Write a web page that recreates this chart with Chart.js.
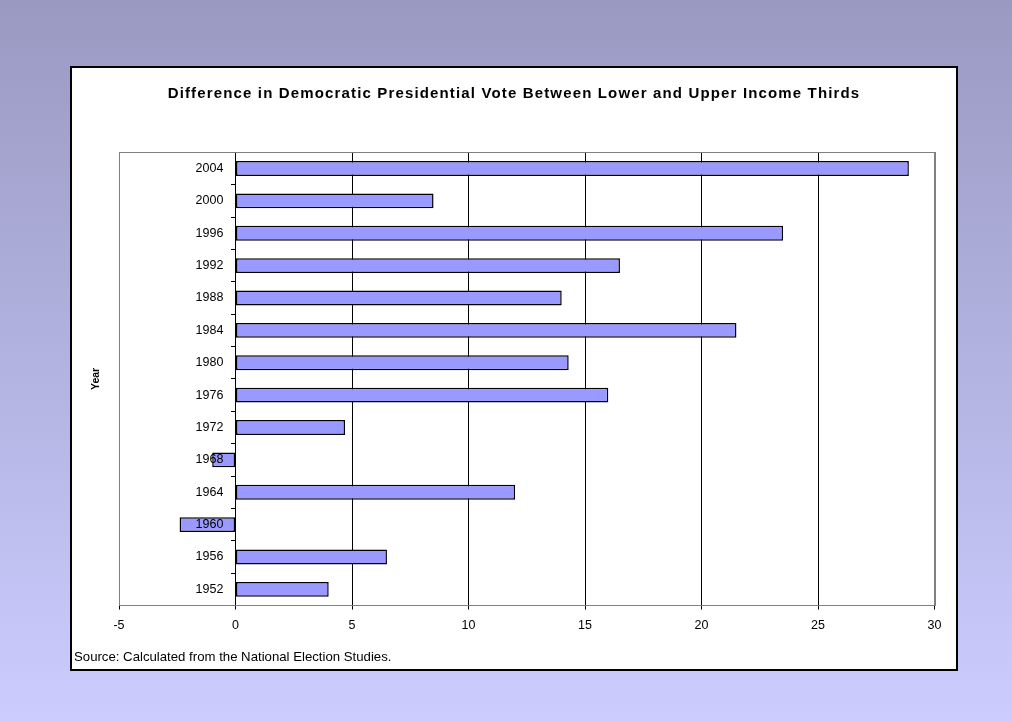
<!DOCTYPE html>
<html>
<head>
<meta charset="utf-8">
<script src="https://cdn.jsdelivr.net/npm/chart.js@4.4.1/dist/chart.umd.min.js"></script>
<style>
    html, body {
        margin: 0;
        padding: 0;
    }
    body {
        width: 1012px;
        height: 722px;
        background: linear-gradient(#9999c2, #ccccff);
        position: relative;
        overflow: hidden;
    }
    .chart-box {
        position: absolute;
        left: 70px;
        top: 66px;
        width: 888px;
        height: 605px;
        box-sizing: border-box;
        border: 2px solid #000;
        background: #fff;
    }
    .chart-box canvas {
        display: block;
    }
</style>
</head>
<body>
<div class="chart-box">
    <canvas id="income-chart" width="884" height="601"></canvas>
</div>
<script>
// Election years and the lower-minus-upper income third gap (percentage points)
const years = ['1952', '1956', '1960', '1964', '1968', '1972', '1976',
               '1980', '1984', '1988', '1992', '1996', '2000', '2004'];
const voteGap = [4.0, 6.5, -2.4, 12.0, -1.0, 4.7, 16.0,
                 14.3, 21.5, 14.0, 16.5, 23.5, 8.5, 28.9];
const xTicks = [-5, 0, 5, 10, 15, 20, 25, 30];

const fontFamily = '"Liberation Sans", Arial, sans-serif';

// Gray frame round the plot area (the axes paint over the bottom edge)
const plotFrame = {
    id: 'plotFrame',
    beforeDatasetsDraw(chart) {
        const { ctx, chartArea } = chart;
        ctx.save();
        ctx.strokeStyle = '#808080';
        ctx.lineWidth = 1;
        ctx.strokeRect(Math.round(chartArea.left) + 0.5, Math.round(chartArea.top) + 0.5,
            Math.round(chartArea.right - chartArea.left), Math.round(chartArea.bottom - chartArea.top));
        ctx.restore();
    }
};

// Spread out the letters of the main title
const titleSpacing = {
    id: 'titleSpacing',
    beforeDraw(chart, args, opts) {
        const block = chart.titleBlock;
        if (!block || block._spaced) return;
        const draw = block.draw.bind(block);
        block.draw = function(area) {
            chart.ctx.save();
            chart.ctx.letterSpacing = opts.spacing;
            draw(area);
            chart.ctx.restore();
        };
        block._spaced = true;
    }
};

const ctx = document.getElementById('income-chart').getContext('2d');
new Chart(ctx, {
    type: 'bar',
    data: {
        labels: years,
        datasets: [{
            data: voteGap,
            backgroundColor: '#9999ff',
            borderColor: '#000',
            borderWidth: 1.5,
            borderSkipped: false,
            categoryPercentage: 1,
            barPercentage: 0.46
        }]
    },
    options: {
        indexAxis: 'y',
        responsive: false,
        devicePixelRatio: 1,
        animation: false,
        events: [],
        layout: { padding: { left: 2, right: 2, top: 0, bottom: 0 } },
        plugins: {
            legend: { display: false },
            tooltip: { enabled: false },
            titleSpacing: { spacing: '1.15px' },
            title: {
                display: true,
                text: 'Difference in Democratic Presidential Vote Between Lower and Upper Income Thirds',
                color: '#000',
                font: { family: fontFamily, size: 15, weight: 'bold' },
                padding: { top: 17, bottom: 49.3 }
            },
            subtitle: {
                display: true,
                position: 'bottom',
                align: 'start',
                text: 'Source: Calculated from the National Election Studies.',
                color: '#000',
                font: { family: fontFamily, size: 13.2 },
                padding: { top: 3.6, bottom: 4 }
            }
        },
        scales: {
            x: {
                type: 'linear',
                position: 'bottom',
                min: xTicks[0],
                max: xTicks[xTicks.length - 1],
                afterBuildTicks: scale => {
                    scale.ticks = xTicks.map(v => ({ value: v }));
                },
                afterFit: scale => { scale.height = 40; },
                grid: {
                    color: c => (c.tick && (c.tick.value === xTicks[0] || c.tick.value === xTicks[xTicks.length - 1])) ? '#808080' : '#000',
                    tickColor: '#000',
                    tickLength: 4,
                    lineWidth: 1
                },
                border: { display: true, color: '#000', width: 1 },
                ticks: {
                    color: '#000',
                    padding: 8,
                    font: { family: fontFamily, size: 12.5 }
                }
            },
            // year labels, set a little left of the zero line and painted over the bars
            y: {
                type: 'category',
                reverse: true,
                offset: true,
                position: { x: -0.52 },
                grid: { display: false },
                border: { display: false },
                ticks: {
                    z: 1,
                    color: '#000',
                    padding: 0,
                    font: { family: fontFamily, size: 12.5 }
                }
            },
            // category axis line at zero with its short tick marks
            yLine: {
                type: 'category',
                axis: 'y',
                reverse: true,
                offset: true,
                position: { x: 0 },
                grid: {
                    offset: true,
                    drawOnChartArea: false,
                    color: '#000',
                    tickLength: 4
                },
                border: { display: true, color: '#000', width: 1 },
                ticks: { display: false }
            },
            yTitle: {
                type: 'category',
                axis: 'y',
                position: 'left',
                reverse: true,
                afterFit: scale => { scale.width = 45; },
                grid: { display: false },
                border: { display: false },
                ticks: { display: false },
                title: {
                    display: true,
                    text: 'Year',
                    color: '#000',
                    font: { family: fontFamily, size: 10.5, weight: 'bold' },
                    padding: { top: 16, bottom: 0 }
                }
            },
            // empty strip on the right so the plot stops short of the frame
            yRightGap: {
                type: 'category',
                axis: 'y',
                position: 'right',
                afterFit: scale => { scale.width = 19.5; },
                grid: { display: false },
                border: { display: false },
                ticks: { display: false }
            }
        }
    },
    plugins: [plotFrame, titleSpacing]
});
</script>
</body>
</html>
